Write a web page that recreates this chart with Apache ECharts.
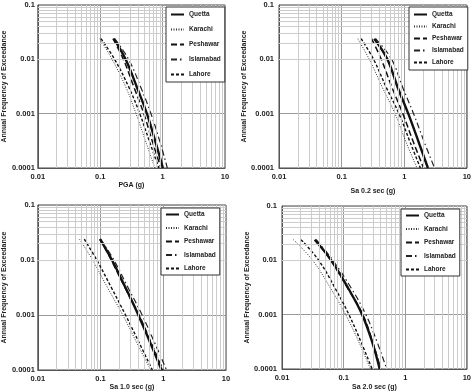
<!DOCTYPE html>
<html><head><meta charset="utf-8">
<script src="https://cdn.jsdelivr.net/npm/echarts@6/dist/echarts.min.js"></script>
<style>html,body{margin:0;padding:0;background:#fff}#c{width:474px;height:392px}</style>
</head><body><div id="c"></div>
<script>
// ---- data ----
const sites = ['Quetta', 'Karachi', 'Peshawar', 'Islamabad', 'Lahore'];
const freqLevels = [0.024, 0.01, 0.003, 0.001, 0.0003, 0.0001];
const xTitles = ['PGA (g)', 'Sa 0.2 sec (g)', 'Sa 1.0 sec (g)', 'Sa 2.0 sec (g)'];
const yTitle = 'Annual Frequency of Exceedance';
const xTickValues = [0.01, 0.1, 1, 10];
const yTickValues = [0.0001, 0.001, 0.01, 0.1];

// PGA
const pgaQuetta    = [0.165, 0.255, 0.39, 0.56, 0.77, 1.01];
const pgaKarachi   = [0.098, 0.155, 0.26, 0.375, 0.54, 0.75];
const pgaPeshawar  = [0.16, 0.235, 0.35, 0.50, 0.69, 0.94];
const pgaIslamabad = [0.17, 0.285, 0.45, 0.65, 0.91, 1.19];
const pgaLahore    = [0.103, 0.17, 0.29, 0.43, 0.62, 0.87];
// Sa 0.2 s
const sa02Quetta    = [0.332, 0.539, 0.79, 1.16, 1.70, 2.39];
const sa02Karachi   = [0.181, 0.277, 0.45, 0.713, 1.07, 1.60];
const sa02Peshawar  = [0.30, 0.43, 0.64, 0.95, 1.40, 2.04];
const sa02Islamabad = [0.35, 0.63, 0.95, 1.41, 2.09, 3.05];
const sa02Lahore    = [0.205, 0.324, 0.52, 0.824, 1.24, 1.81];
// Sa 1.0 s
const sa10Quetta    = [0.098, 0.152, 0.255, 0.40, 0.63, 0.94];
const sa10Karachi   = [0.046, 0.0745, 0.132, 0.226, 0.385, 0.63];
const sa10Peshawar  = [0.098, 0.148, 0.25, 0.41, 0.65, 0.99];
const sa10Islamabad = [0.10, 0.163, 0.28, 0.46, 0.74, 1.13];
const sa10Lahore    = [0.055, 0.087, 0.152, 0.25, 0.42, 0.67];
// Sa 2.0 s
const sa20Quetta    = [0.034, 0.063, 0.12, 0.20, 0.295, 0.385];
const sa20Karachi   = [0.0153, 0.0314, 0.062, 0.108, 0.18, 0.273];
const sa20Peshawar  = [0.035, 0.062, 0.118, 0.205, 0.30, 0.40];
const sa20Islamabad = [0.036, 0.067, 0.135, 0.23, 0.355, 0.50];
const sa20Lahore    = [0.0204, 0.0394, 0.0736, 0.122, 0.195, 0.29];

const panelData = [
  [pgaQuetta, pgaKarachi, pgaPeshawar, pgaIslamabad, pgaLahore],
  [sa02Quetta, sa02Karachi, sa02Peshawar, sa02Islamabad, sa02Lahore],
  [sa10Quetta, sa10Karachi, sa10Peshawar, sa10Islamabad, sa10Lahore],
  [sa20Quetta, sa20Karachi, sa20Peshawar, sa20Islamabad, sa20Lahore]
];

// ---- layout / style ----
const FONT = '"Liberation Sans", Arial, sans-serif';
const grids = [
  {left: 36, top: 5, width: 189, height: 163},
  {left: 279, top: 5, width: 190, height: 163},
  {left: 36, top: 205, width: 190, height: 165},
  {left: 282, top: 206, width: 189, height: 164}
];
const xNameGaps = [13, 20, 14, 15];
const yNameGaps = [27, 28, 28, 29];
const legendPos = [
  {left: 166, top: 7, itemGap: 8, padding: [4, 4, 4, 4]},
  {left: 409, top: 7, itemGap: 5, padding: [4, 4, 4, 4]},
  {left: 161, top: 208, itemGap: 6.5, padding: [3, 4, 3, 4]},
  {left: 401, top: 209, itemGap: 6.5, padding: [3, 4, 3, 4]}
];
const lineStyles = {
  Quetta:    {color: '#111', width: 2.4, type: 'solid'},
  Karachi:   {color: '#333', width: 1, type: [1, 1.5]},
  Peshawar:  {color: '#111', width: 1.5, type: [6, 3]},
  Islamabad: {color: '#222', width: 1.2, type: [6, 3, 1.5, 3]},
  Lahore:    {color: '#111', width: 1.4, type: [3, 2]}
};

function minorValues(lo, hi) {
  const v = [];
  for (let d = lo; d < hi * 0.999; d *= 10)
    for (let k = 2; k <= 9; k++) v.push(+(k * d).toPrecision(3));
  return v;
}
const fmt = v => String(+(+v).toPrecision(3));

const xAxes = [], yAxes = [], series = [], legends = [];
grids.forEach((g, i) => {
  xAxes.push({
    type: 'log', logBase: 10, gridIndex: i, min: xTickValues[0], max: xTickValues[xTickValues.length - 1],
    name: xTitles[i], nameLocation: 'middle', nameGap: xNameGaps[i],
    nameTextStyle: {fontSize: 7, fontWeight: 'bold', color: '#222', fontFamily: FONT},
    axisLabel: {fontSize: 7.5, fontWeight: 'bold', color: '#222', margin: 5, fontFamily: FONT, formatter: fmt},
    axisTick: {show: false},
    axisLine: {lineStyle: {color: '#555', width: 1}},
    splitLine: {show: true, lineStyle: {color: '#9a9a9a', width: 1}}
  });
  yAxes.push({
    type: 'log', logBase: 10, gridIndex: i, min: yTickValues[0], max: yTickValues[yTickValues.length - 1],
    name: yTitle, nameLocation: 'middle', nameGap: yNameGaps[i], nameRotate: 90,
    nameTextStyle: {fontSize: 7, fontWeight: 'bold', color: '#222', fontFamily: FONT},
    axisLabel: {fontSize: 7.5, fontWeight: 'bold', color: '#222', margin: i % 2 ? 5 : 3, fontFamily: FONT, formatter: fmt},
    axisTick: {show: false},
    axisLine: {lineStyle: {color: '#555', width: 1}},
    splitLine: {show: true, lineStyle: {color: '#9a9a9a', width: 1}}
  });
  // minor log gridlines
  series.push({
    type: 'line', name: 'grid' + i, xAxisIndex: i, yAxisIndex: i, data: [], z: 1, silent: true,
    markLine: {
      silent: true, symbol: ['none', 'none'], label: {show: false}, animation: false,
      emphasis: {disabled: true},
      lineStyle: {color: '#cccccc', width: 1, type: 'solid'},
      data: minorValues(0.01, 10).map(v => ({xAxis: v})).concat(minorValues(0.0001, 0.1).map(v => ({yAxis: v})))
    }
  });
  sites.forEach((s, k) => {
    const xs = panelData[i][k];
    series.push({
      type: 'line', name: s, xAxisIndex: i, yAxisIndex: i, z: k === 0 ? 4 : 3,
      symbol: 'none', smooth: 0.4, animation: false,
      lineStyle: lineStyles[s],
      itemStyle: {color: lineStyles[s].color},
      data: xs.map((x, j) => [x, freqLevels[j]])
    });
  });
  legends.push(Object.assign({
    orient: 'vertical', data: sites, itemWidth: 13, itemHeight: 8,
    borderColor: '#333', borderWidth: 1, backgroundColor: '#fff', borderRadius: 0,
    selectedMode: false, z: 6,
    itemStyle: {opacity: 0},
    textStyle: {fontSize: 6.5, fontWeight: 'bold', color: '#222', fontFamily: FONT}
  }, legendPos[i]));
});

const chart = echarts.init(document.getElementById('c'), null, {renderer: 'canvas'});
chart.setOption({
  animation: false,
  backgroundColor: '#fff',
  textStyle: {fontFamily: FONT},
  grid: grids.map(g => Object.assign({show: true, borderColor: '#444', borderWidth: 1, backgroundColor: 'transparent'}, g)),
  xAxis: xAxes,
  yAxis: yAxes,
  legend: legends,
  series: series
});
</script></body></html>
